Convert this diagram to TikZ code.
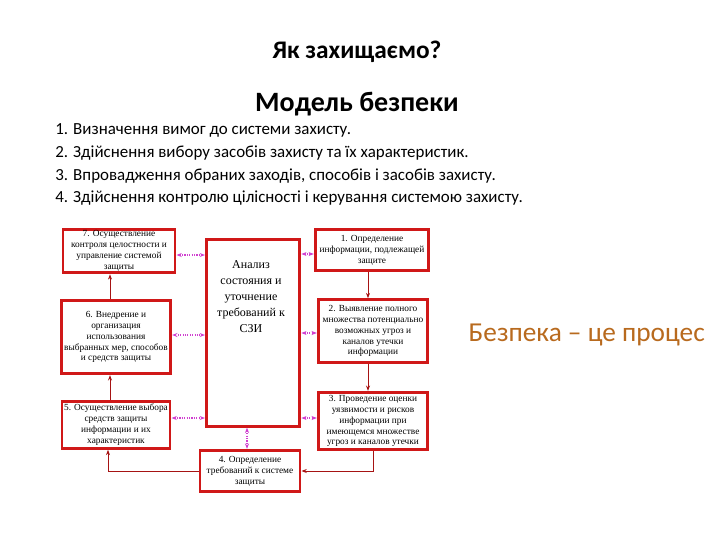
\documentclass[tikz,border=0pt]{standalone}
\usepackage{fontspec}
\setmainfont{Carlito}
\newfontfamily\tms{Liberation Serif}
\usetikzlibrary{arrows.meta}
\definecolor{bx}{HTML}{D01818}
\definecolor{mg}{HTML}{D040D0}
\definecolor{orng}{HTML}{B86A1E}
\tikzset{
 box/.style={draw=bx,line width=2.2pt,fill=white,align=center,font=\tms\fontsize{7}{8.2}\selectfont,inner sep=1pt},
 flow/.style={draw=bx!80!black,line width=0.6pt,-{Stealth[length=4pt]}},
 link/.style={draw=mg,densely dotted,line width=0.8pt,{Stealth[length=4pt]}-{Stealth[length=4pt]}}
}
\begin{document}
\begin{tikzpicture}[x=0.75pt,y=-0.75pt]
\useasboundingbox (0,0) rectangle (720,540);
\node[font=\bfseries\fontsize{19}{22}\selectfont] (t1) at (357,52) {Як захищаємо?};
\node[font=\bfseries\fontsize{21}{24}\selectfont] (t2) at (357,104) {Модель безпеки};
\node[anchor=north west,align=left,font=\fontsize{12.7}{17.2}\selectfont,inner sep=0] (lst) at (55,123) {1. Визначення вимог до системи захисту.\\
2. Здійснення вибору засобів захисту та їх характеристик.\\
3. Впровадження обраних заходів, способів і засобів захисту.\\
4. Здійснення контролю цілісності і керування системою захисту.};
\node[font=\fontsize{20.5}{23}\selectfont,text=orng,anchor=west] (pr) at (464,335) {Безпека – це процес};
\node[box,minimum width=70pt,minimum height=140pt,anchor=north west] (c) at (205,238) {};
\node[font=\tms\fontsize{9}{12}\selectfont,align=center] (ct) at (251,297) {Анализ\\состояния и\\уточнение\\требований к\\СЗИ};
\node[box,minimum width=84pt,minimum height=32pt] (b7) at (119,251) {7. Осуществление\\контроля целостности и\\управление системой\\защиты};
\node[box,minimum width=85pt,minimum height=31pt] (b1) at (372,250) {1. Определение\\информации, подлежащей\\защите};
\node[box,minimum width=82pt,minimum height=55pt] (b6) at (116,337) {6. Внедрение и\\организация\\использования\\выбранных мер, способов\\и средств защиты};
\node[box,minimum width=82pt,minimum height=47pt] (b2) at (373,331) {2. Выявление полного\\множества потенциально\\возможных угроз и\\каналов утечки\\информации};
\node[box,minimum width=81pt,minimum height=35pt] (b5) at (116,425) {5. Осуществление выбора\\средств защиты\\информации и их\\характеристик};
\node[box,minimum width=82pt,minimum height=43pt] (b3) at (373,421) {3. Проведение оценки\\уязвимости и рисков\\информации при\\имеющемся множестве\\угроз и каналов утечки};
\node[box,minimum width=75pt,minimum height=31pt] (b4) at (250,471) {4. Определение\\требований к системе\\защиты};
\draw[flow] (b1.south -| 368,0) -- (b2.north -| 368,0);
\draw[flow] (b2.south -| 368,0) -- (b3.north -| 368,0);
\draw[flow] (b3.south -| 373,0) |- (b4.east);
\draw[flow] (b4.west) -| (b5.south -| 108,0);
\draw[flow] (b5.north -| 110,0) -- (b6.south -| 110,0);
\draw[flow] (b6.north -| 110,0) -- (b7.south -| 110,0);
\draw[link] (b7.east |- 0,255) -- (c.west |- 0,255);
\draw[link] (c.east |- 0,254) -- (b1.west |- 0,254);
\draw[link] (b6.east |- 0,335) -- (c.west |- 0,335);
\draw[link] (c.east |- 0,333) -- (b2.west |- 0,333);
\draw[link] (b5.east |- 0,418) -- (c.west |- 0,418);
\draw[link] (c.east |- 0,418) -- (b3.west |- 0,418);
\draw[link] (c.south -| 247,0) -- (b4.north -| 247,0);
\end{tikzpicture}
\end{document}
